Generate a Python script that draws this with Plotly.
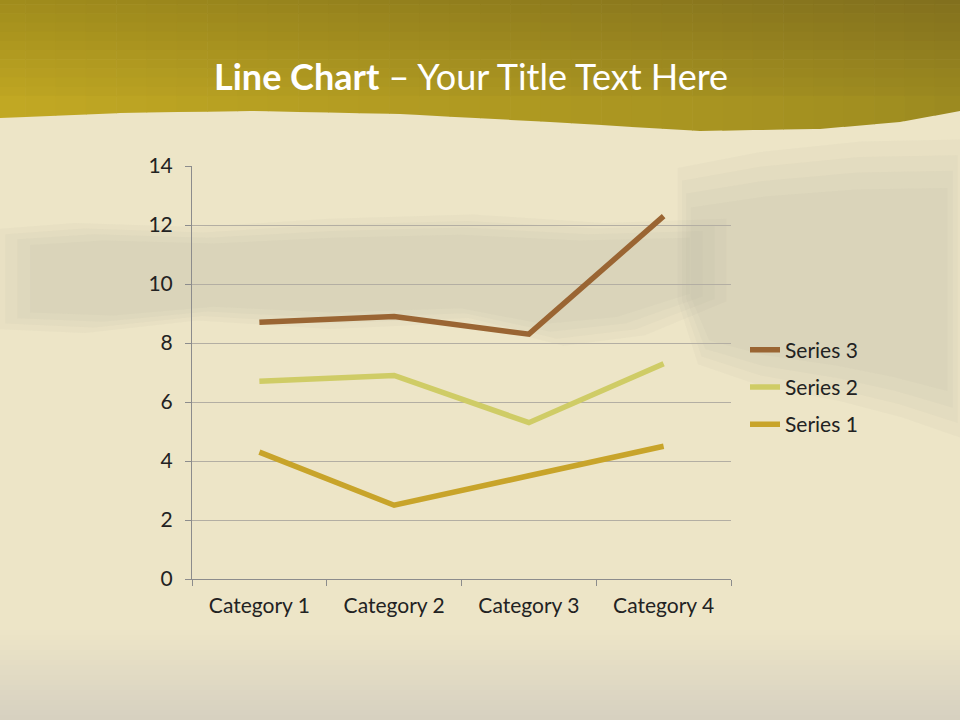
import plotly.graph_objects as go

categories = ["Category 1", "Category 2", "Category 3", "Category 4"]
series1 = [4.3, 2.5, 3.5, 4.5]
series2 = [2.4, 4.4, 1.8, 2.8]
series3 = [2.0, 2.0, 3.0, 5.0]
y_ticks = [0, 2, 4, 6, 8, 10, 12, 14]

W, H = 960, 720
L, R, T, B = 192, 731, 166, 579


def px(x):
    return (x - L) / (R - L)


def py(y):
    return (B - y) / (B - T)


def poly(points):
    return "M " + " L ".join(f"{px(x):.5f},{py(y):.5f}" for x, y in points) + " Z"


def hexc(c):
    return "#%02X%02X%02X" % tuple(int(round(max(0, min(255, v)))) for v in c)


fig = go.Figure()
colors = {"Series 1": "#C8A42A", "Series 2": "#CFCC66", "Series 3": "#9A6533"}
ranks = {"Series 1": 3, "Series 2": 2, "Series 3": 1}
for name, vals in [("Series 1", series1), ("Series 2", series2), ("Series 3", series3)]:
    fig.add_trace(go.Scatter(
        x=categories, y=vals, name=name, legendgroup=name, legendrank=ranks[name],
        mode="lines", stackgroup="one", fill="none",
        line=dict(color=colors[name], width=5.5), hoverinfo="skip"))

shapes = []
# grayish bottom fade (opaque bands)
PAPER = (237, 229, 199)
BOTTOM = (214, 208, 192)
NB = 18
for k in range(NB):
    y0 = 630 + k * (90 / NB)
    t = (k + 0.5) / NB
    c = [PAPER[i] + (BOTTOM[i] - PAPER[i]) * t for i in range(3)]
    shapes.append(dict(type="rect", xref="paper", yref="paper", x0=px(-5), x1=px(965),
                       y0=py(725), y1=py(y0), fillcolor=hexc(c), line_width=0, layer="below"))

# parchment texture (soft gray smudges, layered for soft edges)
smudges = [
    [(0, 232), (80, 226), (200, 230), (330, 222), (470, 218), (600, 226), (720, 222), (720, 300),
     (640, 332), (560, 342), (470, 320), (330, 326), (200, 318), (90, 330), (0, 326)],
    [(680, 175), (760, 160), (860, 150), (960, 148), (960, 430), (900, 410), (840, 395), (760, 380),
     (700, 360), (680, 300)],
]
for pts in smudges:
    cx = sum(p[0] for p in pts) / len(pts)
    cy = sum(p[1] for p in pts) / len(pts)
    for s in (1.06, 0.95, 0.84, 0.72):
        sp = [(cx + (x - cx) * (1 + (s - 1) * 0.3), cy + (y - cy) * s) for x, y in pts]
        shapes.append(dict(type="path", xref="paper", yref="paper", path=poly(sp),
                           fillcolor="#A29E90", opacity=0.065, line_width=0, layer="below"))

# header wave with a bilinear gradient built from opaque cells
wave = [(0, 118), (120, 113), (250, 111), (400, 114), (550, 122), (700, 131), (820, 129), (900, 122), (960, 111)]


def wave_y(x):
    for (x0, y0), (x1, y1) in zip(wave[:-1], wave[1:]):
        if x0 <= x <= x1:
            return y0 + (y1 - y0) * (x - x0) / (x1 - x0)
    return wave[-1][1]


BL, BR, TL, TR = (198, 172, 36), (160, 142, 32), (160, 140, 28), (130, 112, 30)


def grad(u, v):
    return [BL[i] * (1 - u) * (1 - v) + BR[i] * u * (1 - v) + TL[i] * (1 - u) * v + TR[i] * u * v
            for i in range(3)]


NX, NY = 32, 12
for i in range(NX):
    xa = -5 + i * (970 / NX)
    xb = xa + 970 / NX + 0.6
    u = min(1, max(0, (xa + xb) / 2 / 960))
    for j in range(NY):
        ya = -5 + j * (110 / NY)
        yb = ya + 110 / NY + 0.6
        v = 1 - min(1, max(0, ((ya + yb) / 2) / 120))
        if j < NY - 1:
            pts = [(xa, ya), (xb, ya), (xb, yb), (xa, yb)]
        else:
            inner = [x for x, _ in wave if xa < x < xb]
            xs = [xb] + sorted(inner, reverse=True) + [xa]
            pts = [(xa, ya), (xb, ya)] + [(x, wave_y(min(960, max(0, x)))) for x in xs]
            v = 1 - min(1, max(0, ((ya + wave_y(min(960, max(0, (xa + xb) / 2)))) / 2) / 120))
        shapes.append(dict(type="path", xref="paper", yref="paper", path=poly(pts),
                           fillcolor=hexc(grad(u, v)), line_width=0, layer="below"))

fig.update_layout(
    width=W, height=H,
    margin=dict(l=L, r=W - R, t=T, b=H - B),
    paper_bgcolor="#EDE5C7",
    plot_bgcolor="rgba(0,0,0,0)",
    shapes=shapes,
    showlegend=True,
    legend=dict(x=px(745), y=py(387), xanchor="left", yanchor="middle", traceorder="grouped",
                font=dict(family="Lato", size=21, color="#222"), bgcolor="rgba(0,0,0,0)",
                itemwidth=30, tracegroupgap=7),
    annotations=[dict(text="<b>Line Chart</b> – Your Title Text Here", xref="paper", yref="paper",
                      x=px(471), y=py(76), xanchor="center", yanchor="middle", showarrow=False,
                      font=dict(family="Lato", size=36, color="white"))],
    font=dict(family="Lato"),
)
fig.update_xaxes(type="category", range=[-0.5, 3.5], showgrid=False, showline=True, linecolor="#8C8C8C",
                 linewidth=1, ticks="outside", tickson="boundaries", ticklen=6, tickcolor="#8C8C8C",
                 tickfont=dict(family="Lato", size=21, color="#222"), fixedrange=True, ticklabelstandoff=8)
fig.update_yaxes(range=[0, 14], tickvals=y_ticks, showgrid=True, gridcolor="#B3AEA3", gridwidth=1,
                 showline=True, linecolor="#8C8C8C", ticks="outside", ticklen=6, tickcolor="#8C8C8C",
                 zeroline=False, tickfont=dict(family="Lato", size=21, color="#222"), ticklabelstandoff=8,
                 fixedrange=True)

fig.write_html("out.html", config={"displayModeBar": False},
               post_script="document.body.style.margin='0';document.body.style.background='#EDE5C7';")
